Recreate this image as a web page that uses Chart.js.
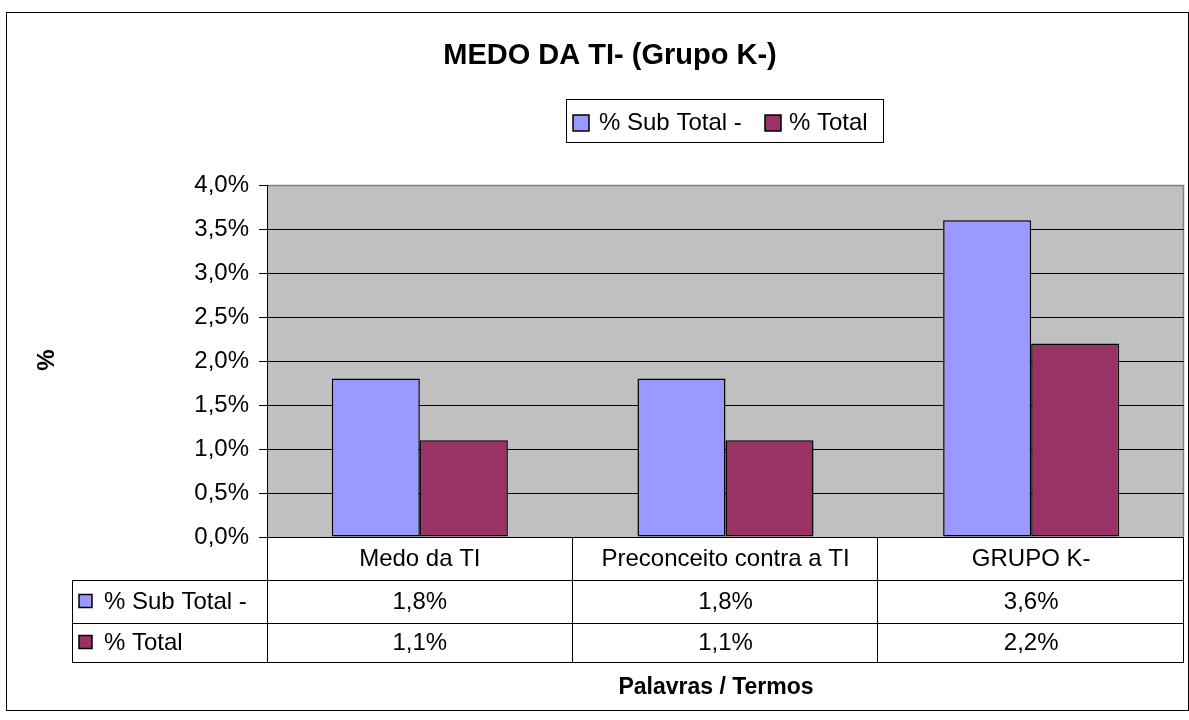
<!DOCTYPE html>
<html>
<head>
<meta charset="utf-8">
<script src="https://cdn.jsdelivr.net/npm/chart.js@4"></script>
<style>
  body { margin: 0; background: #fff; }
</style>
</head>
<body>
<canvas id="grafico" width="1189" height="720"></canvas>
<script>
const categorias = ['Medo da TI', 'Preconceito contra a TI', 'GRUPO K-'];
const subTotal = [1.8, 1.8, 3.6];
const total = [1.1, 1.1, 2.2];
const rotulosSerie = ['% Sub Total -', '% Total'];
const coresSerie = ['#9999FF', '#993366'];

const fonte = '"Liberation Sans", Arial, sans-serif';
const pct = v => v.toFixed(1).replace('.', ',') + '%';

function quadrado(ctx, x, y, lado, cor) {
  ctx.fillStyle = cor;
  ctx.fillRect(x, y, lado, lado);
  ctx.strokeStyle = '#000';
  ctx.lineWidth = 1.5;
  ctx.strokeRect(x, y, lado, lado);
}

const moldura = {
  id: 'moldura',
  beforeDraw(chart) {
    const { ctx, chartArea: a } = chart;
    ctx.save();
    ctx.fillStyle = '#fff';
    ctx.fillRect(0, 0, chart.width, chart.height);
    ctx.strokeStyle = '#000';
    ctx.lineWidth = 1;
    ctx.strokeRect(6.5, 12.5, 1182, 698);
    ctx.fillStyle = '#C0C0C0';
    ctx.fillRect(a.left, a.top, a.right - a.left, a.bottom - a.top);
    ctx.strokeStyle = '#808080';
    ctx.lineWidth = 1.5;
    ctx.beginPath();
    ctx.moveTo(a.left, a.top + 0.5);
    ctx.lineTo(a.right - 0.5, a.top + 0.5);
    ctx.lineTo(a.right - 0.5, a.bottom);
    ctx.stroke();
    ctx.restore();
  },
  afterDraw(chart) {
    const { ctx, chartArea: a } = chart;
    const ds = chart.data.datasets;
    ctx.save();

    // titulo
    ctx.fillStyle = '#000';
    ctx.textAlign = 'center';
    ctx.textBaseline = 'middle';
    ctx.font = 'bold 29px ' + fonte;
    ctx.fillText('MEDO DA TI- (Grupo K-)', 610, 56);

    // legenda
    ctx.strokeStyle = '#000';
    ctx.lineWidth = 1;
    ctx.strokeRect(566.5, 99.5, 317, 43);
    ctx.font = '24px ' + fonte;
    ctx.textAlign = 'left';
    quadrado(ctx, 573, 115, 16, ds[0].backgroundColor);
    ctx.fillStyle = '#000';
    ctx.fillText(ds[0].label, 599, 123);
    quadrado(ctx, 765, 115, 16, ds[1].backgroundColor);
    ctx.fillStyle = '#000';
    ctx.fillText(ds[1].label, 789, 123);

    // titulo do eixo y
    ctx.save();
    ctx.translate(47, 360);
    ctx.rotate(-Math.PI / 2);
    ctx.textAlign = 'center';
    ctx.font = 'bold 24px ' + fonte;
    ctx.fillText('%', 0, 0);
    ctx.restore();

    // tabela de dados
    const n = chart.data.labels.length;
    const larg = (a.right - a.left) / n;
    const linhas = [a.bottom, 580, 623, 662];
    ctx.strokeStyle = '#000';
    ctx.lineWidth = 1;
    ctx.beginPath();
    ctx.moveTo(a.left + 0.5, a.bottom);
    ctx.lineTo(a.left + 0.5, linhas[3]);
    for (let i = 1; i <= n; i++) {
      const x = Math.round(a.left + i * larg) - 0.5;
      ctx.moveTo(x, a.bottom);
      ctx.lineTo(x, linhas[3]);
    }
    ctx.moveTo(72.5, linhas[1]);
    ctx.lineTo(72.5, linhas[3]);
    for (let r = 1; r <= 3; r++) {
      ctx.moveTo(72, linhas[r] + 0.5);
      ctx.lineTo(a.right, linhas[r] + 0.5);
    }
    ctx.stroke();

    ctx.font = '24px ' + fonte;
    ctx.textAlign = 'center';
    ctx.fillStyle = '#000';
    chart.data.labels.forEach((lab, i) => {
      const cx = chart.scales.x.getPixelForValue(i);
      ctx.fillText(lab, cx, (linhas[0] + linhas[1]) / 2 + 1);
      ds.forEach((d, j) => {
        ctx.fillText(pct(d.data[i]), cx, (linhas[j + 1] + linhas[j + 2]) / 2 + 1);
      });
    });
    ds.forEach((d, j) => {
      const cy = (linhas[j + 1] + linhas[j + 2]) / 2;
      quadrado(ctx, 79, cy - 7, 13, d.backgroundColor);
      ctx.fillStyle = '#000';
      ctx.textAlign = 'left';
      ctx.fillText(d.label, 104, cy + 1);
    });

    // titulo do eixo x
    ctx.textAlign = 'center';
    ctx.font = 'bold 23px ' + fonte;
    ctx.fillText('Palavras / Termos', 716, 688);
    ctx.restore();
  }
};

new Chart(document.getElementById('grafico'), {
  type: 'bar',
  data: {
    labels: categorias,
    datasets: [
      { label: rotulosSerie[0], data: subTotal, backgroundColor: coresSerie[0] },
      { label: rotulosSerie[1], data: total, backgroundColor: coresSerie[1] }
    ].map(d => ({
      ...d,
      borderColor: '#000',
      borderWidth: 1.5,
      borderSkipped: false,
      categoryPercentage: 0.576,
      barPercentage: 1.0
    }))
  },
  options: {
    responsive: false,
    animation: false,
    layout: { padding: { top: 185, right: 5, bottom: 183, left: 0 } },
    plugins: {
      legend: { display: false },
      title: { display: false },
      tooltip: { enabled: false }
    },
    scales: {
      x: { display: false },
      y: {
        min: 0,
        max: 4,
        afterFit: s => { s.width = 267; },
        ticks: {
          stepSize: 0.5,
          color: '#000',
          padding: 10,
          font: { family: fonte, size: 24 },
          callback: v => pct(v)
        },
        grid: {
          color: c => (c.tick && c.tick.value === 4 ? '#808080' : '#000'),
          tickColor: '#000',
          tickLength: 8,
          lineWidth: 1
        },
        border: { display: true, color: '#000', width: 1 }
      }
    }
  },
  plugins: [moldura]
});
</script>
</body>
</html>
